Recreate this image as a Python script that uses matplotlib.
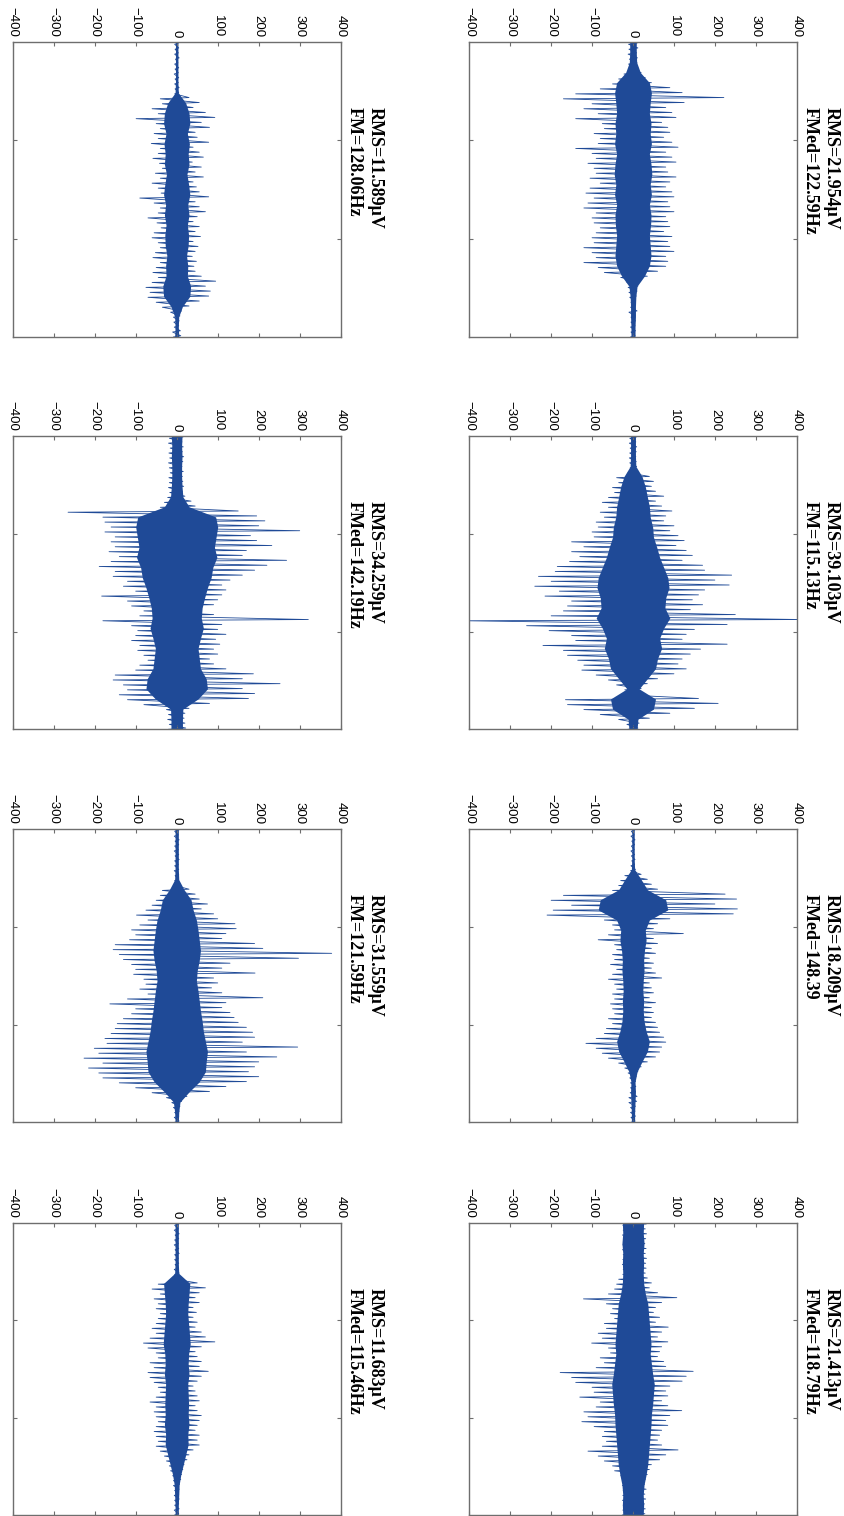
import numpy as np
import matplotlib
matplotlib.use("Agg")
import matplotlib.pyplot as plt

# EMG bursts, one panel per trial: positive / negative peak per time slot (uV)
up_1 = [4, 5, 4, 6, 3, 5, 4, 5, 4, 6, 5, 30, 55, 40, 70, 93, 60, 80, 45, 50,
        78, 40, 55, 65, 38, 60, 45, 65, 40, 48, 55, 78, 45, 55, 70, 50, 40, 55, 45, 58,
        40, 52, 45, 38, 48, 42, 45, 60, 95, 70, 82, 78, 55, 30, 12, 8, 6, 5, 9, 10]
low_1 = [-5, -4, -5, -3, -5, -4, -6, -4, -5, -4, -5, -40, -35, -60, -45, -99, -50, -40, -55, -45,
         -62, -40, -45, -58, -42, -35, -52, -40, -60, -45, -38, -90, -55, -40, -45, -70, -48, -38, -55, -60,
         -45, -40, -52, -58, -40, -50, -58, -45, -60, -75, -65, -70, -50, -35, -15, -8, -7, -6, -10, -8]
core_1 = [3, 3, 3, 3, 3, 4, 22, 30, 32, 26, 31, 28, 30, 25, 29,
          32, 27, 30, 26, 29, 28, 24, 27, 26, 34, 32, 14, 5, 4, 5]

up_2 = [10, 12, 9, 11, 10, 12, 20, 30, 45, 90, 120, 222, 125, 80, 95, 105, 70, 85, 90, 75,
        95, 110, 80, 95, 105, 80, 85, 105, 90, 80, 95, 100, 85, 90, 100, 80, 85, 90, 75, 95,
        85, 90, 100, 80, 85, 80, 60, 35, 15, 12, 10, 8, 6, 5, 10, 5, 6, 5, 6, 5]
low_2 = [-11, -10, -12, -9, -11, -10, -22, -35, -50, -80, -140, -170, -100, -120, -85, -140, -75, -70, -95, -80,
         -85, -140, -100, -90, -110, -95, -90, -105, -80, -105, -115, -95, -110, -120, -90, -100, -95, -80, -90, -100,
         -95, -120, -100, -90, -120, -85, -70, -30, -15, -12, -10, -8, -5, -6, -10, -5, -5, -6, -5, -6]
core_2 = [8, 8, 9, 18, 40, 45, 42, 40, 44, 42, 45, 40, 44, 46, 42,
          45, 40, 44, 43, 40, 42, 44, 40, 28, 10, 7, 6, 6, 5, 5]

up_3 = [15, 13, 16, 14, 17, 15, 13, 16, 14, 15, 17, 14, 20, 35, 45, 150, 195, 215, 200, 300,
        180, 195, 232, 170, 160, 268, 220, 190, 160, 130, 110, 120, 110, 100, 90, 60, 90, 321, 110, 100,
        120, 95, 105, 90, 100, 80, 90, 120, 187, 160, 252, 160, 190, 175, 80, 30, 20, 18, 20, 22]
low_3 = [-18, -20, -16, -19, -17, -20, -18, -16, -19, -18, -20, -17, -22, -30, -40, -265, -180, -175, -160, -175,
         -150, -160, -150, -165, -140, -160, -189, -150, -155, -120, -130, -100, -183, -120, -110, -80, -90, -180, -110, -95,
         -100, -110, -90, -95, -80, -70, -90, -100, -150, -155, -130, -120, -140, -120, -80, -25, -20, -22, -18, -20]
core_3 = [13, 12, 13, 12, 12, 13, 15, 30, 95, 100, 96, 92, 98, 88, 84,
          75, 68, 62, 60, 65, 58, 52, 55, 58, 72, 75, 52, 15, 14, 14]

up_4 = [8, 7, 9, 8, 7, 8, 9, 10, 40, 50, 45, 55, 75, 55, 70, 95, 80, 75, 100, 90,
        110, 125, 105, 130, 145, 120, 170, 175, 241, 200, 235, 175, 160, 145, 170, 140, 250, 410, 230, 150,
        130, 120, 230, 165, 140, 120, 110, 130, 100, 60, 35, 20, 25, 160, 208, 150, 90, 40, 15, 12]
low_4 = [-8, -9, -7, -8, -9, -8, -7, -12, -40, -35, -50, -45, -60, -75, -60, -80, -70, -90, -85, -100,
         -95, -150, -120, -150, -130, -155, -185, -190, -231, -200, -240, -180, -215, -150, -160, -170, -200, -410, -260, -205,
         -150, -140, -220, -170, -160, -135, -120, -125, -90, -60, -40, -20, -25, -165, -160, -120, -80, -35, -15, -12]
core_4 = [6, 6, 6, 7, 22, 30, 35, 40, 42, 48, 50, 58, 65, 75, 85,
          88, 80, 78, 90, 75, 65, 70, 60, 55, 35, 15, 55, 50, 12, 10]

up_5 = [5, 4, 6, 5, 4, 5, 6, 4, 5, 5, 4, 6, 30, 45, 55, 75, 60, 90, 100, 142,
        145, 120, 110, 190, 210, 378, 297, 130, 110, 191, 90, 100, 85, 110, 210, 120, 110, 130, 140, 150,
        170, 185, 190, 160, 295, 170, 244, 200, 190, 175, 200, 170, 120, 80, 25, 12, 8, 6, 5, 6]
low_5 = [-5, -6, -4, -5, -6, -4, -5, -5, -6, -4, -5, -5, -35, -40, -50, -60, -75, -98, -70, -90,
         -110, -100, -115, -150, -155, -140, -130, -110, -100, -105, -80, -75, -90, -70, -120, -163, -100, -110, -130, -145,
         -150, -160, -175, -170, -201, -190, -226, -180, -215, -190, -180, -140, -100, -60, -25, -12, -8, -5, -6, -5]
core_5 = [4, 4, 4, 4, 4, 5, 18, 35, 40, 48, 52, 55, 58, 55, 50,
          48, 52, 55, 58, 62, 65, 70, 75, 72, 70, 55, 30, 8, 5, 4]

up_6 = [4, 3, 5, 4, 3, 4, 5, 4, 6, 20, 35, 45, 60, 225, 253, 200, 255, 245, 90, 60,
        50, 123, 50, 60, 45, 55, 40, 50, 45, 55, 70, 40, 45, 50, 40, 55, 45, 50, 45, 55,
        60, 65, 75, 80, 70, 65, 55, 35, 20, 12, 8, 6, 7, 6, 10, 9, 6, 5, 6, 5]
low_6 = [-4, -5, -3, -4, -5, -4, -3, -5, -6, -20, -30, -35, -50, -170, -200, -150, -195, -210, -70, -50,
         -45, -60, -85, -45, -40, -50, -45, -55, -40, -50, -60, -45, -40, -50, -45, -55, -50, -45, -60, -50,
         -65, -70, -90, -115, -90, -75, -60, -35, -20, -12, -8, -6, -6, -7, -10, -10, -6, -6, -5, -5]
core_6 = [3, 3, 3, 3, 4, 20, 35, 80, 85, 40, 30, 32, 28, 26, 27,
          25, 24, 26, 25, 27, 32, 40, 35, 22, 10, 5, 6, 5, 4, 4]

up_7 = [5, 4, 6, 5, 4, 5, 6, 4, 5, 4, 6, 5, 50, 70, 55, 45, 55, 40, 48, 40,
        50, 45, 60, 70, 93, 60, 45, 50, 60, 55, 77, 60, 50, 40, 45, 50, 55, 45, 50, 60,
        55, 50, 45, 55, 50, 55, 40, 30, 25, 18, 15, 12, 10, 7, 6, 5, 6, 5, 6, 5]
low_7 = [-5, -6, -4, -5, -6, -4, -5, -5, -4, -6, -5, -5, -45, -60, -40, -55, -45, -50, -40, -45,
         -50, -60, -50, -65, -81, -70, -50, -45, -65, -55, -70, -65, -55, -45, -40, -50, -65, -50, -55, -50,
         -45, -50, -55, -50, -45, -50, -40, -30, -25, -18, -15, -10, -8, -8, -5, -6, -5, -5, -6, -5]
core_7 = [4, 4, 4, 4, 4, 5, 32, 30, 28, 27, 29, 31, 33, 29, 28,
          30, 27, 28, 29, 28, 30, 27, 28, 22, 16, 10, 6, 5, 4, 4]

up_8 = [32, 30, 33, 31, 29, 32, 30, 33, 31, 32, 30, 35, 45, 40, 60, 107, 70, 55, 50, 65,
        55, 86, 70, 60, 85, 70, 65, 60, 75, 80, 147, 130, 120, 90, 80, 85, 70, 85, 119, 90,
        80, 85, 70, 65, 60, 70, 110, 80, 65, 45, 40, 35, 30, 28, 32, 29, 31, 28, 30, 29]
low_8 = [-25, -24, -26, -23, -25, -26, -24, -25, -26, -24, -25, -35, -40, -45, -60, -121, -65, -50, -55, -45,
         -70, -65, -85, -75, -101, -60, -55, -80, -70, -90, -178, -150, -140, -100, -95, -130, -80, -90, -120, -110,
         -125, -95, -70, -75, -65, -75, -110, -85, -70, -50, -45, -30, -25, -26, -24, -25, -26, -24, -25, -26]
core_8 = [26, 25, 27, 25, 26, 25, 26, 30, 36, 38, 40, 42, 44, 42, 45,
          48, 52, 50, 48, 45, 44, 42, 40, 38, 36, 32, 27, 25, 26, 25]

rms_labels = ["RMS=11.589\u03bcV", "RMS=21.954\u03bcV", "RMS=34.259\u03bcV", "RMS=39.103\u03bcV",
              "RMS=31.559\u03bcV", "RMS=18.209\u03bcV", "RMS=11.683\u03bcV", "RMS=21.413\u03bcV"]
freq_labels = ["FM=128.06Hz", "FMed=122.59Hz", "FMed=142.19Hz", "FM=115.13Hz",
               "FM=121.59Hz", "FMed=148.39", "FMed=115.46Hz", "FMed=118.79Hz"]

ups = [up_1, up_2, up_3, up_4, up_5, up_6, up_7, up_8]
lows = [low_1, low_2, low_3, low_4, low_5, low_6, low_7, low_8]
cores = [core_1, core_2, core_3, core_4, core_5, core_6, core_7, core_8]

amp_ticks = [-400, -300, -200, -100, 0, 100, 200, 300, 400]

blue = "#1f4a97"
frame = "#6e6e6e"

W, H = 845, 1516
fig = plt.figure(figsize=(W / 100, H / 100), dpi=100)

# panel boxes in pixels: (left, top, width, height)
col_left = [12.7, 469.3]
col_width = [328.0, 327.4]
row_top = [42, 436, 829, 1223]
row_height = [295, 293.3, 293.3, 292]

for k in range(8):
    r, c = divmod(k, 2)
    x0, w = col_left[c], col_width[c]
    y0, h = row_top[r], row_height[r]
    ax = fig.add_axes([x0 / W, 1 - (y0 + h) / H, w / W, h / H])

    # each slot: a near-horizontal stroke from the positive to the negative peak,
    # time runs downward
    n = len(ups[k])
    slot = np.linspace(0, 3, n + 1)
    sig = np.column_stack([ups[k], lows[k]]).ravel()
    t = np.column_stack([slot[:-1] + 0.2 * (slot[1] - slot[0]),
                         slot[:-1] + 0.45 * (slot[1] - slot[0])]).ravel()
    t = t * 3 / t[-1]
    tc = np.linspace(0, 3, len(cores[k]))
    core = np.array(cores[k])
    ax.fill_betweenx(tc, -core, core, color=blue, lw=0)
    ax.plot(sig, t, color=blue, lw=0.6)

    ax.set_xlim(-400, 400)
    ax.set_ylim(3, 0)
    ax.set_xticks(amp_ticks)
    ax.set_yticks([1, 2])
    ax.tick_params(direction="in", length=3, width=0.8, color=frame,
                   top=True, bottom=True, left=True, right=True,
                   labeltop=True, labelbottom=False, labelleft=False,
                   labelsize=9.5, pad=3.4)
    ax.tick_params(axis="x", labelrotation=-90)
    for lab in ax.get_xticklabels():
        lab.set_fontfamily("Liberation Sans")
    for sp in ax.spines.values():
        sp.set_color(frame)
        sp.set_linewidth(1.0)

    xr = x0 + w
    ttop = 1 - (y0 + 65) / H
    fig.text((xr + 34.5) / W, ttop, rms_labels[k], rotation=-90, ha="center", va="top",
             fontfamily="Liberation Serif", fontweight="bold", fontsize=13)
    fig.text((xr + 13) / W, ttop, freq_labels[k], rotation=-90, ha="center", va="top",
             fontfamily="Liberation Serif", fontweight="bold", fontsize=13)

fig.savefig("out.png", dpi=100)
